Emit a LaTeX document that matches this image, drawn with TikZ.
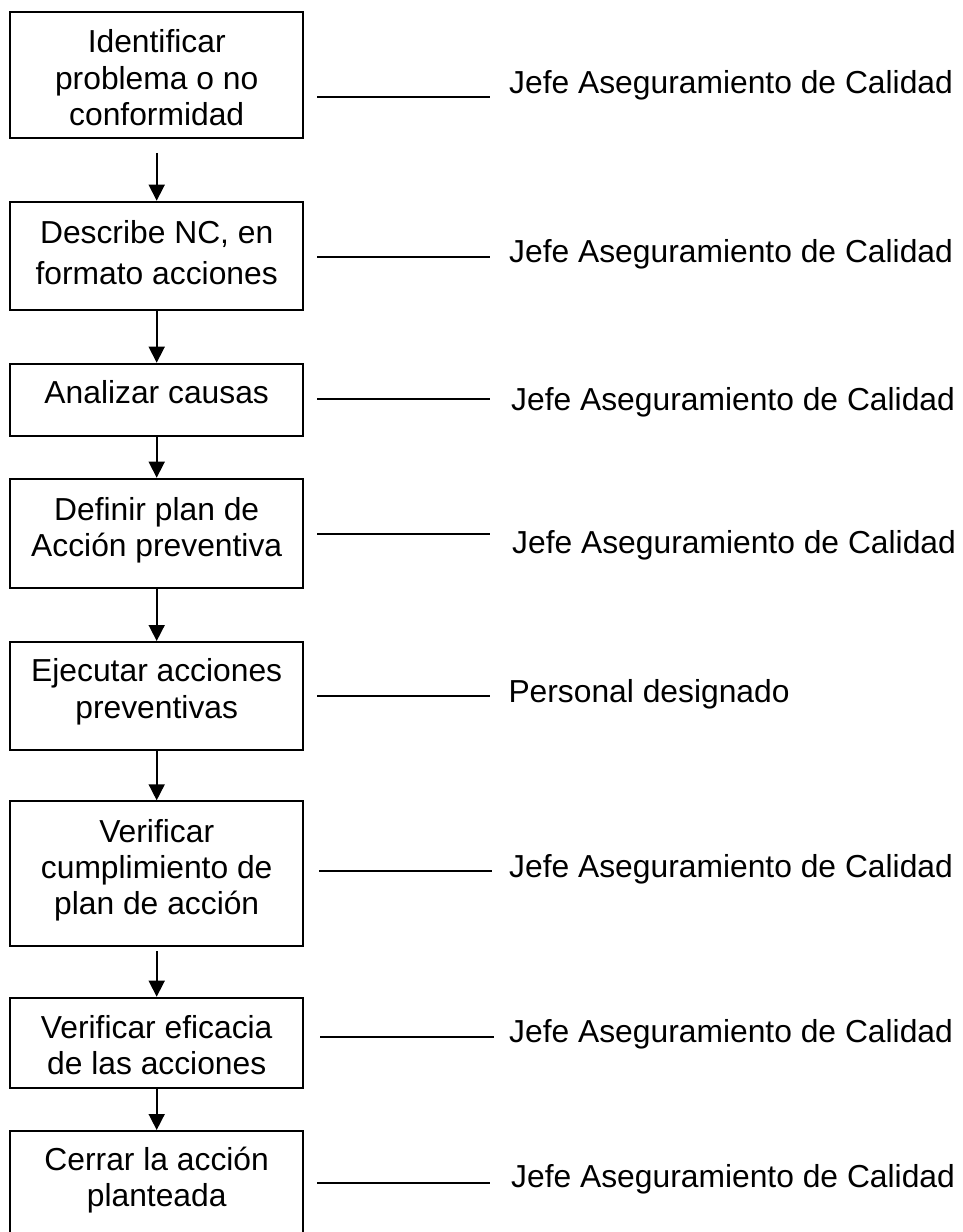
\documentclass[tikz,border=0pt]{standalone}
\usepackage{fontspec}
\setmainfont{Liberation Sans}
\usetikzlibrary{arrows.meta}
% fixed height for the first line of every step text
\newcommand\boxstrut{\rule{0pt}{25pt}}
\begin{document}
\begin{tikzpicture}[x=1pt,y=-1pt,
  every node/.style={font=\fontsize{31.8pt}{36.3pt}\selectfont, inner sep=0pt},
  stepbox/.style={draw, rectangle, line width=2pt, minimum width=292.7pt},
  steptext/.style={align=center, anchor=north},
  role/.style={anchor=base west},
  flow/.style={line width=1.6pt, -{Triangle[width=16pt,length=16pt]}},
  tie/.style={line width=1.6pt}]
\clip (0,0) rectangle (962,1232);

% process steps
\node[stepbox, minimum height=126.3pt] (b1) at (156.7,75.15) {};
\node[stepbox, minimum height=108.6pt] (b2) at (156.7,256) {};
\node[stepbox, minimum height=72.6pt]  (b3) at (156.7,400) {};
\node[stepbox, minimum height=109pt]   (b4) at (156.7,533.2) {};
\node[stepbox, minimum height=107.7pt] (b5) at (156.7,695.85) {};
\node[stepbox, minimum height=144.7pt] (b6) at (156.7,873.65) {};
\node[stepbox, minimum height=90pt]    (b7) at (156.7,1042.7) {};
\node[stepbox, minimum height=114pt]   (b8) at (156.7,1188) {};

\node[steptext] (t1) at (156.7,27.5) {\boxstrut Identificar\\problema o no\\conformidad};
\node[steptext] (t2) at (156.7,218) {\boxstrut Describe NC, en\\[5.3pt]formato acciones};
\node[steptext] (t3) at (156.7,378.5) {\boxstrut Analizar causas};
\node[steptext] (t4) at (156.7,495) {\boxstrut Definir plan de\\Acción preventiva};
\node[steptext] (t5) at (156.7,656.5) {\boxstrut Ejecutar acciones\\preventivas};
\node[steptext] (t6) at (156.7,817) {\boxstrut Verificar\\cumplimiento de\\plan de acción};
\node[steptext] (t7) at (156.7,1013) {\boxstrut Verificar eficacia\\de las acciones};
\node[steptext] (t8) at (156.7,1145) {\boxstrut Cerrar la acción\\planteada};

% flow between steps
\draw[flow, shorten <=13.5pt] (b1) -- (b2);
\draw[flow] (b2) -- (b3);
\draw[flow] (b3) -- (b4);
\draw[flow] (b4) -- (b5);
\draw[flow] (b5) -- (b6);
\draw[flow, shorten <=4pt] (b6) -- (b7);
\draw[flow] (b7) -- (b8);

% responsible roles
\node[role] (r1) at (509,93.5)   {Jefe Aseguramiento de Calidad};
\node[role] (r2) at (509,262.5)  {Jefe Aseguramiento de Calidad};
\node[role] (r3) at (511,410)    {Jefe Aseguramiento de Calidad};
\node[role] (r4) at (512,553)    {Jefe Aseguramiento de Calidad};
\node[role] (r5) at (508.3,702)  {Personal designado};
\node[role] (r6) at (509,877)    {Jefe Aseguramiento de Calidad};
\node[role] (r7) at (509,1042)   {Jefe Aseguramiento de Calidad};
\node[role] (r8) at (511,1187)   {Jefe Aseguramiento de Calidad};

% rules linking steps to roles
\coordinate (s1) at (317,97);   \coordinate (e1) at (490,97);
\coordinate (s2) at (317,257);  \coordinate (e2) at (490,257);
\coordinate (s3) at (317,399);  \coordinate (e3) at (490,399);
\coordinate (s4) at (317,534);  \coordinate (e4) at (490,534);
\coordinate (s5) at (317,696);  \coordinate (e5) at (490,696);
\coordinate (s6) at (319,871);  \coordinate (e6) at (492,871);
\coordinate (s7) at (320,1037); \coordinate (e7) at (494,1037);
\coordinate (s8) at (317,1183); \coordinate (e8) at (490,1183);
\foreach \i in {1,...,8} \draw[tie] (s\i) -- (e\i);
\end{tikzpicture}
\end{document}
